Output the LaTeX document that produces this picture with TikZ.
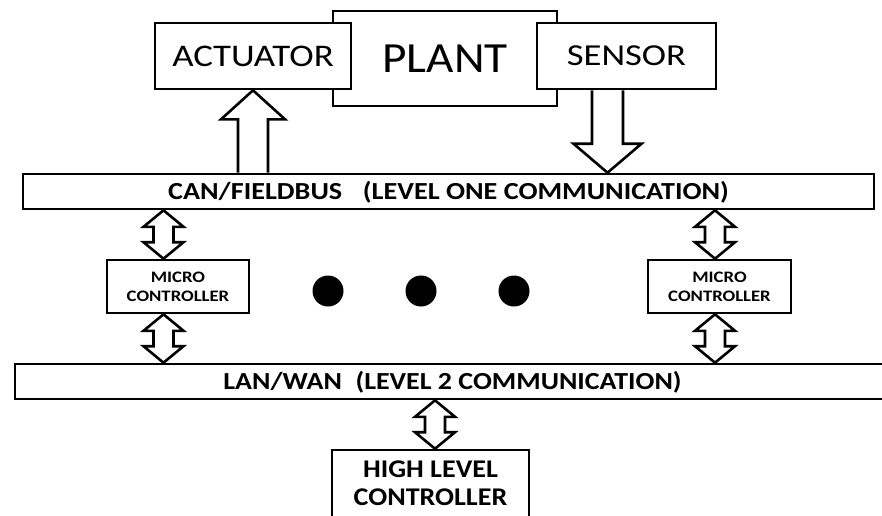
\documentclass[tikz,border=0pt]{standalone}
\usepackage{fontspec}
\usepackage{graphicx}
\setmainfont{Carlito}
\usetikzlibrary{calc}
\newcommand\sx[2]{\scalebox{#1}[1]{#2}}
\newcommand\dblarr[2]{%
  \draw[hollow] let \p1=(#1), \p2=(#2) in
    (\x1,\y1) -- (\x1+20pt,\y1-16.5pt) -- (\x1+10pt,\y1-16.5pt) -- (\x1+10pt,\y2+16.5pt)
    -- (\x1+20pt,\y2+16.5pt) -- (\x1,\y2) -- (\x1-20pt,\y2+16.5pt) -- (\x1-10pt,\y2+16.5pt)
    -- (\x1-10pt,\y1-16.5pt) -- (\x1-20pt,\y1-16.5pt) -- cycle;}
\begin{document}
\begin{tikzpicture}[x=1pt,y=-1pt,
  box/.style={draw=black, line width=2.6pt, fill=white, inner sep=0pt, align=center},
  hollow/.style={draw=black, line width=2.6pt, fill=white, line join=miter},
  dot/.style={fill=black, circle, inner sep=0pt, minimum size=31pt}]
\clip (0,0) rectangle (882,515);
\fill[white] (0,0) rectangle (882,515);
% top boxes
\node[box, minimum width=224pt, minimum height=95pt,
  font=\fontsize{43}{43}\selectfont] (plant) at (445,58.5) {\sx{1.1}{PLANT}};
\node[box, minimum width=196pt, minimum height=66pt,
  font=\fontsize{31.5}{31.5}\selectfont] (act) at (253,56) {\sx{1.17}{ACTUATOR}};
\node[box, minimum width=179pt, minimum height=66pt,
  font=\fontsize{30.5}{30.5}\selectfont] (sen) at (626.5,56) {\sx{1.2}{SENSOR}};
% buses
\node[box, minimum width=851pt, minimum height=35pt, text height=16pt, text depth=0pt,
  font=\bfseries\fontsize{24.5}{24.5}\selectfont] (can) at (448.5,191.5)
  {\sx{1.15}{CAN/FIELDBUS\hspace{18pt}(LEVEL ONE COMMUNICATION)}};
\node[box, minimum width=875pt, minimum height=35pt, text height=16pt, text depth=0pt,
  font=\bfseries\fontsize{24.5}{24.5}\selectfont] (lan) at (452.5,381.5)
  {\sx{1.14}{LAN/WAN\hspace{12pt}(LEVEL 2 COMMUNICATION)}};
% micro controllers
\node[box, minimum width=142pt, minimum height=53pt,
  font=\bfseries\fontsize{16}{19}\selectfont] (mc1) at (178,286.5)
  {\sx{1.17}{MICRO}\\\sx{1.17}{CONTROLLER}};
\node[box, minimum width=143pt, minimum height=53pt,
  font=\bfseries\fontsize{16}{19}\selectfont] (mc2) at (719.5,286.5)
  {\sx{1.17}{MICRO}\\\sx{1.17}{CONTROLLER}};
% high level controller
\node[box, minimum width=197pt, minimum height=67pt,
  font=\bfseries\fontsize{25.5}{28}\selectfont] (hlc) at (430.5,483.5)
  {\sx{1.1}{HIGH LEVEL}\\\sx{1.1}{CONTROLLER}};
% dots
\node[dot] (d1) at (328,291) {};
\node[dot] (d2) at (421,291) {};
\node[dot] (d3) at (514,291) {};
% arrow guides
\coordinate (la) at (163.5,0);
\coordinate (ra) at (715,0);
\coordinate (ha) at (435,0);
\coordinate (da) at (607.5,0);
% up arrow to actuator
\draw[hollow] let \p1=(act.south), \p2=(act.south |- can.north) in
  (\x1-15pt,\y2) -- (\x1-15pt,\y1-29pt) -- (\x1-32pt,\y1-29pt) -- (\x1,\y1)
  -- (\x1+32pt,\y1-29pt) -- (\x1+15pt,\y1-29pt) -- (\x1+15pt,\y2);
% down arrow from sensor
\draw[hollow] let \p1=(da |- sen.south), \p2=(da |- can.north) in
  (\x1-15.5pt,\y1) -- (\x1-15.5pt,\y2+29pt) -- (\x1-34pt,\y2+29pt) -- (\x2,\y2)
  -- (\x1+34pt,\y2+29pt) -- (\x1+15.5pt,\y2+29pt) -- (\x1+15.5pt,\y1);
% double arrows
\dblarr{la |- can.south}{la |- mc1.north}
\dblarr{la |- mc1.south}{la |- lan.north}
\dblarr{ra |- can.south}{ra |- mc2.north}
\dblarr{ra |- mc2.south}{ra |- lan.north}
\dblarr{ha |- lan.south}{ha |- hlc.north}
\end{tikzpicture}
\end{document}
